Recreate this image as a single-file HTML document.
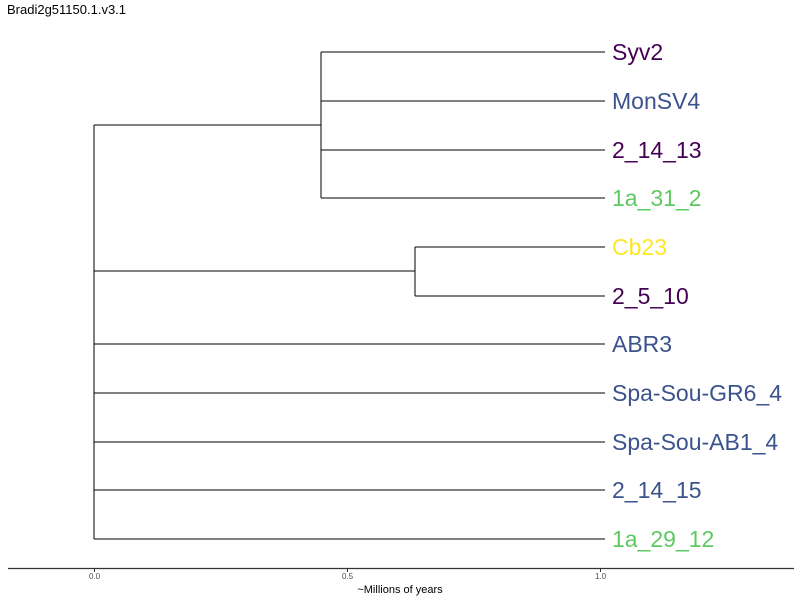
<!DOCTYPE html>
<html><head><style>body{margin:0;background:#fff}svg{display:block}</style></head><body>
<svg width="800" height="600" xmlns="http://www.w3.org/2000/svg" font-family="Liberation Sans, sans-serif">
<rect width="800" height="600" fill="#fff"/>
<text x="7" y="14" font-size="13" fill="#000">Bradi2g51150.1.v3.1</text>
<g stroke="#000" stroke-width="1" fill="none" shape-rendering="crispEdges">
<line x1="94" y1="125" x2="94" y2="539"/>
<line x1="94" y1="125" x2="321" y2="125"/>
<line x1="321" y1="52" x2="321" y2="198"/>
<line x1="321" y1="52" x2="605" y2="52"/>
<line x1="321" y1="101" x2="605" y2="101"/>
<line x1="321" y1="150" x2="605" y2="150"/>
<line x1="321" y1="198" x2="605" y2="198"/>
<line x1="94" y1="271" x2="415" y2="271"/>
<line x1="415" y1="247" x2="415" y2="296"/>
<line x1="415" y1="247" x2="605" y2="247"/>
<line x1="415" y1="296" x2="605" y2="296"/>
<line x1="94" y1="344" x2="605" y2="344"/>
<line x1="94" y1="393" x2="605" y2="393"/>
<line x1="94" y1="442" x2="605" y2="442"/>
<line x1="94" y1="490" x2="605" y2="490"/>
<line x1="94" y1="539" x2="605" y2="539"/>
</g>
<g font-size="23">
<text x="612" y="60" fill="#440154">Syv2</text>
<text x="612" y="109" fill="#3b528b">MonSV4</text>
<text x="612" y="158" fill="#440154">2_14_13</text>
<text x="612" y="206" fill="#5ec962">1a_31_2</text>
<text x="612" y="255" fill="#fde725">Cb23</text>
<text x="612" y="304" fill="#440154">2_5_10</text>
<text x="612" y="352" fill="#3b528b">ABR3</text>
<text x="612" y="401" fill="#3b528b">Spa-Sou-GR6_4</text>
<text x="612" y="450" fill="#3b528b">Spa-Sou-AB1_4</text>
<text x="612" y="498" fill="#3b528b">2_14_15</text>
<text x="612" y="547" fill="#5ec962">1a_29_12</text>
</g>
<line x1="8" y1="568.5" x2="794" y2="568.5" stroke="#333" stroke-width="1.2"/>
<g stroke="#333" stroke-width="1"><line x1="94.5" y1="569" x2="94.5" y2="572"/><line x1="347.5" y1="569" x2="347.5" y2="572"/><line x1="600.5" y1="569" x2="600.5" y2="572"/></g>
<g font-size="8" fill="#4d4d4d" text-anchor="middle">
<text x="94.5" y="579">0.0</text><text x="347.5" y="579">0.5</text><text x="600.5" y="579">1.0</text>
</g>
<text x="400" y="593" font-size="11" text-anchor="middle" fill="#000">~Millions of years</text>
</svg>
</body></html>
